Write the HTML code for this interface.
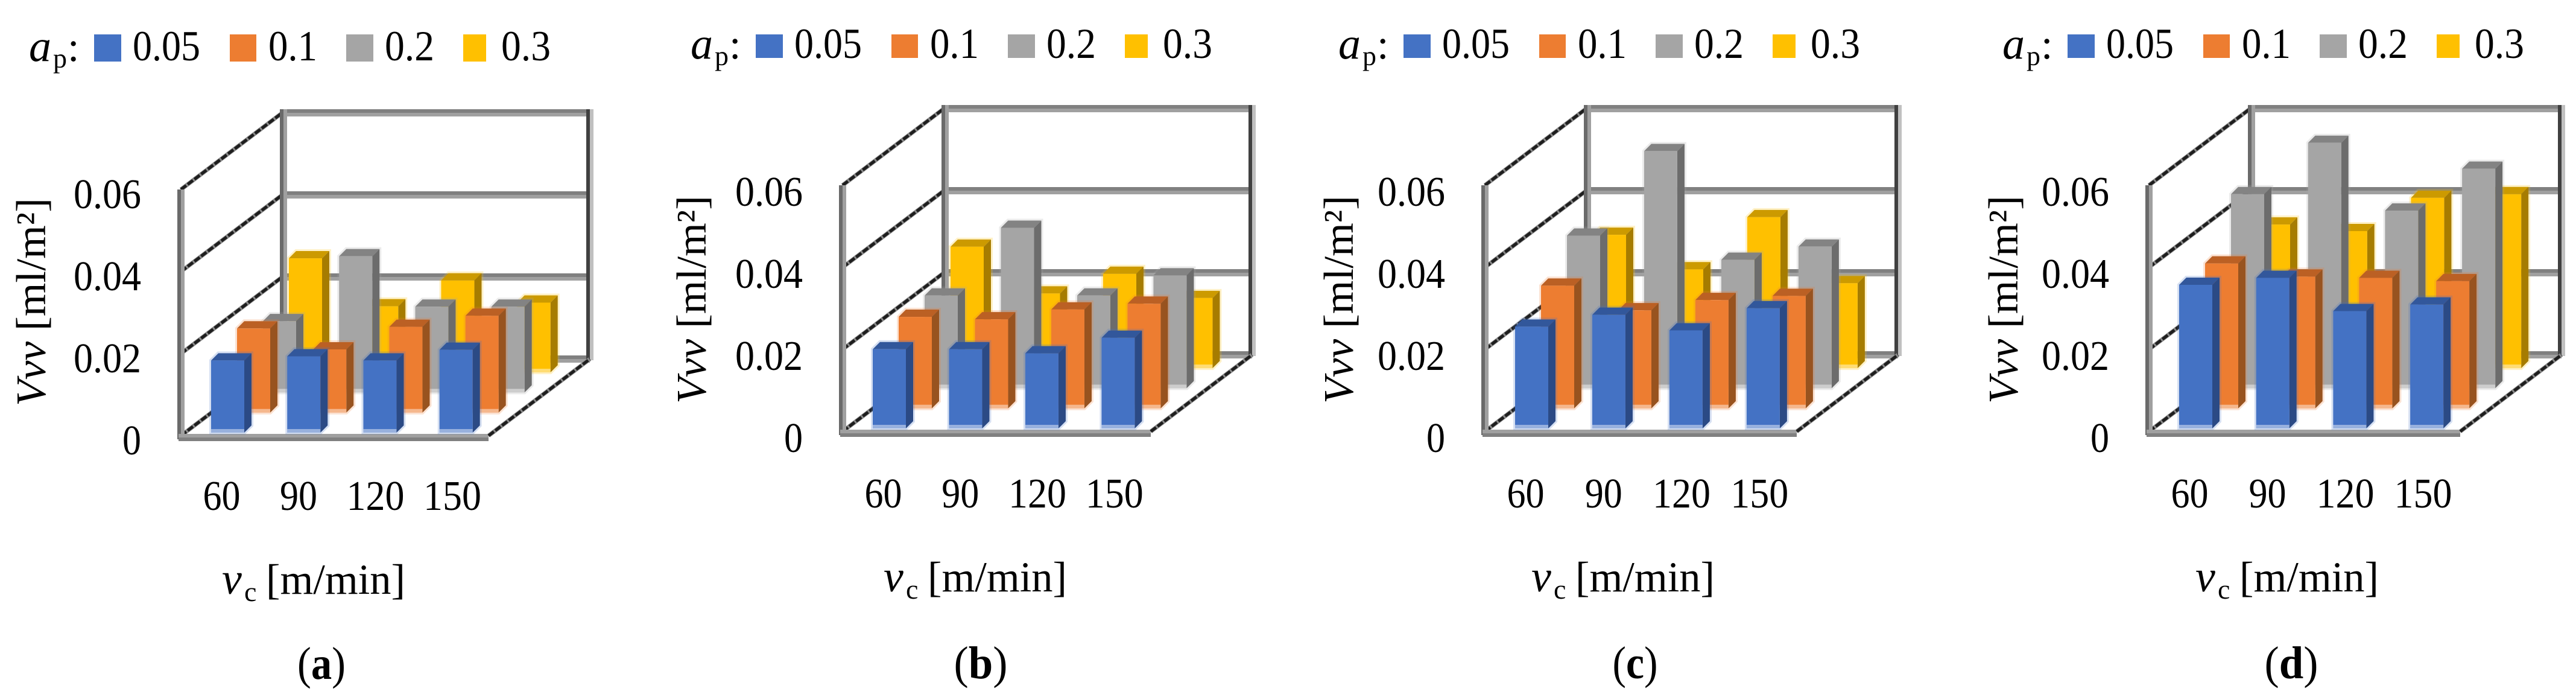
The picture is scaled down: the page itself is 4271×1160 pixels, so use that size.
<!DOCTYPE html>
<html lang="en">
<head>
<meta charset="utf-8">
<title>Vvv 3D column charts</title>
<style>
html,body{margin:0;padding:0;background:#fff;width:4271px;height:1160px;overflow:hidden}
svg{display:block}
text{font-family:"Liberation Serif","DejaVu Serif",serif;fill:#000}
</style>
</head>
<body>
<svg id="figure" xmlns="http://www.w3.org/2000/svg" width="4271" height="1160" viewBox="0 0 4271 1160"></svg>
<script>
// ---- chart data ----
const categories = ["60", "90", "120", "150"];
const seriesLabels = ["0.05", "0.1", "0.2", "0.3"];
const yTicks = [0, 0.02, 0.04, 0.06];
const yTickLabels = ["0", "0.02", "0.04", "0.06"];
const panelLetters = ["a", "b", "c", "d"];

const panelA_005 = [0.0176, 0.0186, 0.0176, 0.0202];
const panelA_01  = [0.0205, 0.0154, 0.0209, 0.0236];
const panelA_02  = [0.0174, 0.0332, 0.0209, 0.0209];
const panelA_03  = [0.0278, 0.0161, 0.0224, 0.0170];

const panelB_005 = [0.0193, 0.0193, 0.0183, 0.0221];
const panelB_01  = [0.0223, 0.0217, 0.0241, 0.0255];
const panelB_02  = [0.0226, 0.0391, 0.0226, 0.0275];
const panelB_03  = [0.0296, 0.0182, 0.0230, 0.0171];

const panelC_005 = [0.0248, 0.0277, 0.0239, 0.0293];
const panelC_01  = [0.0299, 0.0239, 0.0264, 0.0274];
const panelC_02  = [0.0372, 0.0578, 0.0313, 0.0345];
const panelC_03  = [0.0325, 0.0241, 0.0368, 0.0207];

const panelD_005 = [0.0350, 0.0367, 0.0286, 0.0302];
const panelD_01  = [0.0353, 0.0321, 0.0318, 0.0310];
const panelD_02  = [0.0473, 0.0598, 0.0433, 0.0535];
const panelD_03  = [0.0350, 0.0334, 0.0415, 0.0424];

const panelValues = [
  [panelA_005, panelA_01, panelA_02, panelA_03],
  [panelB_005, panelB_01, panelB_02, panelB_03],
  [panelC_005, panelC_01, panelC_02, panelC_03],
  [panelD_005, panelD_01, panelD_02, panelD_03]
];

// ---- styling and layout ----
const NS = "http://www.w3.org/2000/svg";
const svg = document.getElementById("figure");
const faceColors = ["#4472c4", "#ed7d31", "#a5a5a5", "#ffc000"];
const sideColors = ["#2b4a85", "#98531f", "#6c6c6c", "#a67c00"];
const topColors  = ["#32579b", "#bb6024", "#838383", "#cc9a00"];
const frameX = [300, 1397, 2462, 3563];
const frameY = [722, 715, 715, 715];
const frameW = [510, 511, 517, 516];
const textDy = [0, -4, -4, -4];
const legendDx = [0, 1097, 2171, 3272];
const yTitleDx = [0, 1095, 2168, 3270];
const captionX = [533, 1626, 2711, 3799];
const captionW = [80, 89, 75, 89];
const DEPTH_DX = 168, DEPTH_DY = 127;
const PX_PER_UNIT = 136 / 0.02;

function yScale(v) { return v * PX_PER_UNIT; }
function barX(p, cat, ser) { return frameX[p] + 50 + cat * frameW[p] * 0.2475 + ser * 43; }
function barBase(p, ser) { return frameY[p] - 5 - ser * 33.3; }

function mk(tag, parent, attrs) {
  const el = document.createElementNS(NS, tag);
  for (const k in attrs) el.setAttribute(k, attrs[k]);
  parent.appendChild(el);
  return el;
}
function band(parent, x1, y1, x2, y2, dark, light, horizontal) {
  const off = 3;
  mk("line", parent, {x1: x1 + (horizontal ? 0 : off), y1: y1 + (horizontal ? off : 0), x2: x2 + (horizontal ? 0 : off), y2: y2 + (horizontal ? off : 0), stroke: light, "stroke-width": 6});
  mk("line", parent, {x1: x1 - (horizontal ? 0 : off), y1: y1 - (horizontal ? off : 0), x2: x2 - (horizontal ? 0 : off), y2: y2 - (horizontal ? off : 0), stroke: dark, "stroke-width": 6});
}
function diag(parent, x1, y1, x2, y2) {
  mk("line", parent, {x1, y1, x2, y2, stroke: "#8a8a8a", "stroke-width": 7});
  mk("line", parent, {x1, y1, x2, y2, stroke: "#1e1e1e", "stroke-width": 5, "stroke-dasharray": "11 3"});
}
function txt(parent, x, y, size, content, extra) {
  const el = mk("text", parent, Object.assign({x, y, "font-size": size}, extra || {}));
  el.innerHTML = content;
  return el;
}
function tickWidth(label) { return label.length === 1 ? 31 : label.length === 2 ? 62 : label.length === 3 ? 96 : 112; }

panelValues.forEach(function (series, p) {
  const g = mk("g", svg, {});
  
  

  const fx = frameX[p], fy = frameY[p], fw = frameW[p];
  const H = yScale(0.06);

  // frame: walls, gridlines, floor
  const frame = mk("g", g, {});
  
  
  const bx = fx + DEPTH_DX, by = fy - DEPTH_DY;
  yTicks.forEach(function (t) {
    const dy = yScale(t);
    band(frame, bx, by - dy, bx + fw, by - dy, "#808080", "#a0a0a0", true);
    diag(frame, fx, fy - dy, bx, by - dy);
  });
  band(frame, fx, fy - H, fx, fy + 6, "#6a6a6a", "#a0a0a0", false);
  band(frame, bx + 2, by - H - 6, bx + 2, by, "#6a6a6a", "#a0a0a0", false);
  band(frame, bx + fw, by - H - 6, bx + fw, by + 2, "#404040", "#c0c0c0", false);
  band(frame, fx - 4, fy + 3, fx + fw, fy + 3, "#a0a0a0", "#808080", true);
  diag(frame, fx + fw, fy, bx + fw, by);

  // bars, back series first
  for (let s = series.length - 1; s >= 0; s--) {
    const sg = mk("g", g, {});
    
    
    series[s].forEach(function (v, c) {
      const x = barX(p, c, s), base = barBase(p, s), h = yScale(v), w = 55, d = 12;
      const top = base - h;
      const b = mk("g", sg, {});
      
      
      const outline = [x, base, x, top, x + d, top - d, x + w + d, top - d, x + w + d, base - d, x + w, base].join(" ");
      mk("polygon", b, {points: outline, fill: "none", stroke: faceColors[s], "stroke-opacity": 0.22, "stroke-width": 6});
      mk("polygon", b, {points: [x, top, x + w, top, x + w + d, top - d, x + d, top - d].join(" "), fill: topColors[s]});
      mk("polygon", b, {points: [x + w, top, x + w + d, top - d, x + w + d, base - d, x + w, base].join(" "), fill: sideColors[s]});
      mk("rect", b, {x: x, y: top, width: w, height: h, fill: faceColors[s]});
      mk("rect", b, {x: x, y: base - 6, width: w, height: 6, fill: "#fff", "fill-opacity": 0.45});
    });
  }

  // y tick labels
  yTicks.forEach(function (t, i) {
    const label = yTickLabels[i];
    const w = tickWidth(label);
    const el = txt(g, frameX[p] - 66 - w, 753 + textDy[p] - yScale(t), 70, label, {textLength: w, lengthAdjust: "spacingAndGlyphs"});
    
    
  });

  // x tick labels
  categories.forEach(function (label, i) {
    const w = tickWidth(label);
    const el = txt(g, frameX[p] + 67.5 + i * fw * 0.25 - w / 2, 845 + textDy[p], 70, label, {textLength: w, lengthAdjust: "spacingAndGlyphs"});
    
    
  });

  // y-axis title
  const yt = txt(g, 0, 0, 70, '<tspan font-style="italic">Vvv</tspan> [ml/m²]', {
    transform: "translate(" + (yTitleDx[p] + 75) + "," + (673 + textDy[p]) + ") rotate(-90)",
    textLength: 345, lengthAdjust: "spacingAndGlyphs"
  });
  
  

  // x-axis title
  const L = legendDx[p], td = textDy[p];
  const xt = mk("g", g, {});
  
  
  txt(xt, L + 368, 984 + td, 74, 'v', {"font-style": "italic"});
  txt(xt, L + 405, 996 + td, 46, 'c');
  txt(xt, L + 441, 984 + td, 71, '[m/min]', {textLength: 231, lengthAdjust: "spacingAndGlyphs"});

  // legend
  const leg = mk("g", g, {});
  
  
  txt(leg, L + 48, 101 + td, 74, 'a', {"font-style": "italic"});
  txt(leg, L + 88, 112 + td, 46, 'p');
  txt(leg, L + 112, 101 + td, 70, ':');
  const swatchLeft = [156, 381, 574, 768];
  const swatchWidth = [45, 44, 45, 38];
  const labelLeft = [220, 445, 638, 831];
  const labelWidth = [112, 81, 82, 82];
  seriesLabels.forEach(function (label, i) {
    const e = mk("g", leg, {});
    
    
    mk("rect", e, {x: L + swatchLeft[i], y: 57, width: swatchWidth[i], height: p === 0 ? 45 : 39, fill: faceColors[i]});
    txt(e, L + labelLeft[i], 100 + td, 71, label, {textLength: labelWidth[i], lengthAdjust: "spacingAndGlyphs"});
  });

  // caption
  const cap = txt(g, captionX[p] - captionW[p] / 2, p === 0 ? 1125 : 1124, 76, '(<tspan font-weight="bold">' + panelLetters[p] + '</tspan>)', {textLength: captionW[p], lengthAdjust: "spacingAndGlyphs"});
  
  
});
</script>
</body>
</html>
